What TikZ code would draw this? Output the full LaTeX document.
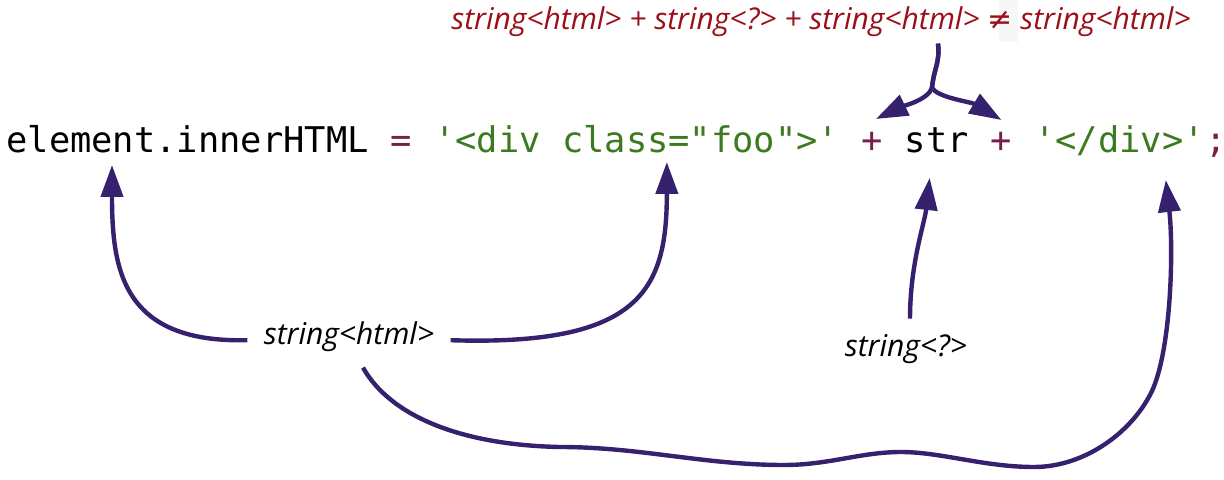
\documentclass[tikz,border=0pt]{standalone}
\usepackage{fontspec}
\usepackage{xcolor}
\usepackage{tikz}
\usetikzlibrary{arrows.meta, positioning, calc}
\newfontfamily\codefont{DejaVu Sans Mono}
\newfontfamily\lblfont{Open Sans}
\newfontfamily\symfont{DejaVu Sans}
\definecolor{arrowblue}{RGB}{54,33,110}
\definecolor{strgreen}{RGB}{60,122,32}
\definecolor{oppurple}{RGB}{122,30,72}
\definecolor{typered}{RGB}{155,15,25}
\newlength\spw
\setlength\spw{10.656pt}
\tikzset{
  code/.style  = {inner sep=0pt, anchor=base west, text=black,
                  font=\codefont\fontsize{17.7}{22}\selectfont},
  codeG/.style = {code, text=strgreen},
  codeP/.style = {code, text=oppurple},
  lbl/.style   = {inner sep=8pt, anchor=base,
                  font=\lblfont\itshape\fontsize{15}{18}\selectfont},
  lblR/.style  = {lbl, inner sep=3pt, text=typered},
  arrow/.style = {draw=arrowblue, line width=2.2pt, -{Triangle[length=16pt, width=11pt]}},
}
\begin{document}
\begin{tikzpicture}[x=0.5pt, y=-0.5pt]

    \useasboundingbox (0,0) rectangle (1224,480);

    %% Code line
    \node[code]  (lhs)   at (6,153) {element.innerHTML};
    \node[codeP] (eq)    at ([xshift=\spw]lhs.base east) {=};
    \node[codeG] (open)  at ([xshift=\spw]eq.base east)
        {\textquotesingle<div class=\textquotedbl foo\textquotedbl>\textquotesingle};
    \node[codeP] (plusA) at ([xshift=\spw]open.base east) {+};
    \node[code]  (str)   at ([xshift=\spw]plusA.base east) {str};
    \node[codeP] (plusB) at ([xshift=\spw]str.base east) {+};
    \node[codeG] (close) at ([xshift=\spw]plusB.base east) {\textquotesingle</div>\textquotesingle};
    \node[codeP] (semi)  at (close.base east) {;};

    %% Type labels
    \fill[gray!6] (999,0) rectangle (1018,42);
    \node[lblR] (sum)  at (821,30)
        {string<html> + string<?> + string<html> {\symfont\upshape ≠} string<html>};
    \node[lbl]  (lblH) at (349,344) {string<html>};
    \node[lbl]  (lblQ) at (906,357) {string<?>};

    %% Arrow ends
    \coordinate (tipE) at ($(lhs.base west)+(106,12)$);
    \coordinate (tipC) at ($(open.base west)+(233,9)$);
    \coordinate (tipS) at ($(str.base)+(-7,25)$);
    \coordinate (tipD) at ($(close.base west)+(132,27)$);
    \coordinate (tipL) at ($(plusA.base west)+(15,-34)$);
    \coordinate (tipR) at ($(plusB.base west)+(11,-33)$);
    \coordinate (fork) at ($(sum.south)+(111,44)$);

    \draw[arrow] ([yshift=-2pt]lblH.west) .. controls +(-125,3) and +(0,105) .. (tipE);
    \draw[arrow] ([yshift=-2pt]lblH.east) .. controls +(190,6) and +(0,128) .. (tipC);
    \draw[arrow] ([xshift=7pt]lblH.south) .. controls +(27,48) and +(-100,-2) .. (560,447)
        .. controls +(80,0) and +(-80,0) .. (784,465)
        .. controls +(45,0) and +(-40,0) .. (901,452)
        .. controls +(40,0) and +(-50,0) .. (1034,467)
        .. controls +(50,0) and +(-20,40) .. (1151,393)
        .. controls +(20,-40) and +(8,70) .. (tipD);
    \draw[arrow] ([xshift=2pt]lblQ.north) .. controls +(0,-55) and +(-5,45) .. (tipS);
    \draw[arrow] ([xshift=58.5pt]sum.south) .. controls +(2,20) and +(2,-20) .. (fork)
        .. controls +(-3,12) and +(25,-12) .. (tipL);
    \draw[arrow] ([xshift=58.5pt]sum.south) .. controls +(2,20) and +(2,-20) .. (fork)
        .. controls +(5,10) and +(-30,-18) .. (tipR);

\end{tikzpicture}
\end{document}
